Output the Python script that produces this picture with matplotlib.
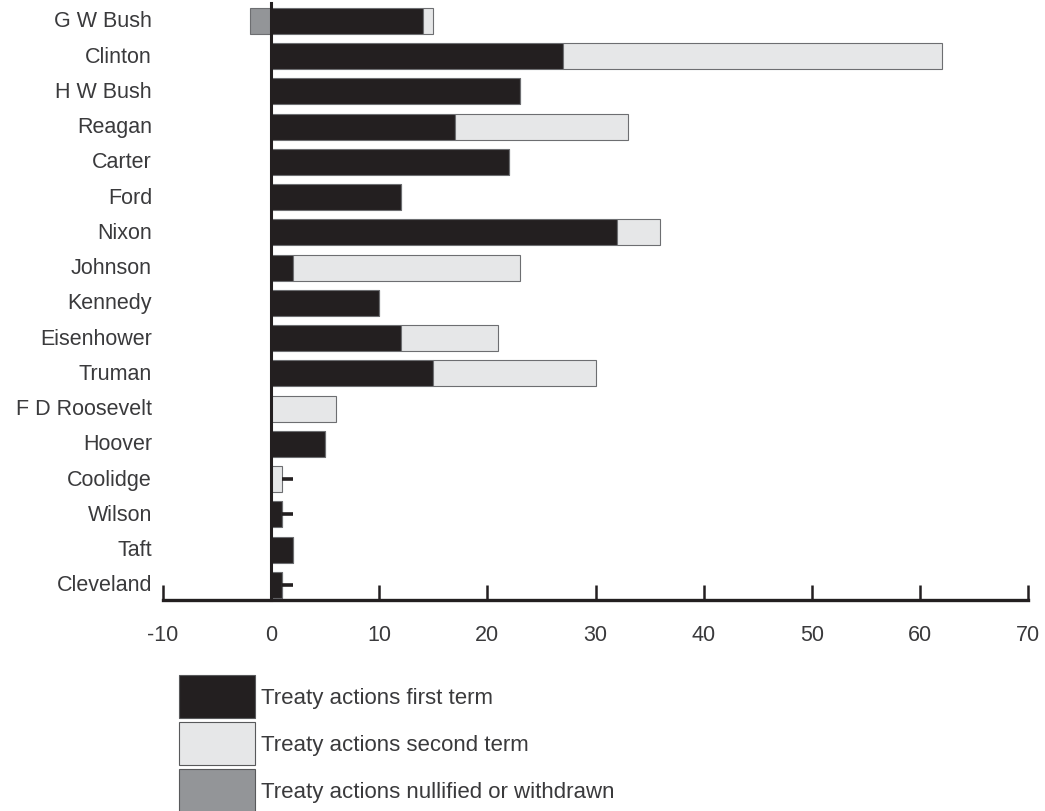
import matplotlib.pyplot as plt
import matplotlib.patches as mpatches
import numpy as np

plt.rcParams["font.family"] = ["Liberation Sans", "DejaVu Sans"]
plt.rcParams["axes.unicode_minus"] = False

# Presidents, bottom to top
presidents = [
    "Cleveland", "Taft", "Wilson", "Coolidge", "Hoover", "F D Roosevelt",
    "Truman", "Eisenhower", "Kennedy", "Johnson", "Nixon", "Ford",
    "Carter", "Reagan", "H W Bush", "Clinton", "G W Bush",
]
first_term = [1, 2, 1, 0, 5, 0, 15, 12, 10, 2, 32, 12, 22, 17, 23, 27, 14]
second_term = [0, 0, 0, 1, 0, 6, 15, 9, 0, 21, 4, 0, 0, 16, 0, 35, 1]
nullified = [0, 0, 0, 0, 0, 0, 0, 0, 0, 0, 0, 0, 0, 0, 0, 0, -2]
# short marks beyond the bar end
mark_end = [2, None, 2, 2, None, None, None, None, None, None, None, None,
            None, None, None, None, None]

c_first = "#231f20"
c_second = "#e6e7e8"
c_null = "#939598"
c_text = "#3a3a3c"
c_edge = "#6d6e71"
fs = 15.5

fig = plt.figure(figsize=(10.45, 8.12), dpi=100)
ax = fig.add_axes([163 / 1045, 1 - 601 / 812, 865 / 1045, 597 / 812])

y = np.arange(len(presidents))
h = 0.74
ax.barh(y, first_term, height=h, color=c_first, edgecolor=c_edge, linewidth=0.8, zorder=2)
ax.barh(y, second_term, left=first_term, height=h, color=c_second,
        edgecolor=c_edge, linewidth=0.8, zorder=2)
ax.barh(y, nullified, height=h, color=c_null, edgecolor=c_edge, linewidth=0.8, zorder=2)

for i, end in enumerate(mark_end):
    if end is not None:
        start = first_term[i] + second_term[i]
        ax.hlines(y[i], start, end, color=c_first, linewidth=2.6, zorder=3)

ax.set_xlim(-10, 70)
ax.set_ylim(-0.43, 16.51)
ax.set_xticks(range(-10, 71, 10))
ax.set_yticks([])

for s in ["top", "right"]:
    ax.spines[s].set_visible(False)
ax.spines["left"].set_position(("data", 0))
ax.spines["left"].set_linewidth(2.2)
ax.spines["bottom"].set_linewidth(2.4)
ax.spines["left"].set_color(c_first)
ax.spines["bottom"].set_color(c_first)
ax.spines["left"].set_zorder(4)

ax.tick_params(axis="x", direction="in", length=11, width=1.8, color=c_first,
               labelsize=fs, labelcolor=c_text, pad=17)

# y labels sit left of the plot area, not next to the zero line
for name, yy in zip(presidents, y):
    ax.text(-0.0127, yy, name, transform=ax.get_yaxis_transform(), ha="right",
            va="center", fontsize=fs, color=c_text)

handles = [
    mpatches.Patch(facecolor=c_first, edgecolor="#58595b", linewidth=0.8),
    mpatches.Patch(facecolor=c_second, edgecolor="#58595b", linewidth=0.8),
    mpatches.Patch(facecolor=c_null, edgecolor="#58595b", linewidth=0.8),
]
labels = [
    "Treaty actions first term",
    "Treaty actions second term",
    "Treaty actions nullified or withdrawn",
]
leg = fig.legend(handles, labels, loc="upper left",
                 bbox_to_anchor=(179 / 1045, 1 - 676 / 812), frameon=False,
                 fontsize=16, handlelength=3.4, handleheight=2.6,
                 labelspacing=0.18, handletextpad=0.3, borderpad=0, borderaxespad=0)
for t in leg.get_texts():
    t.set_color(c_text)

fig.savefig("out.png", dpi=100)
